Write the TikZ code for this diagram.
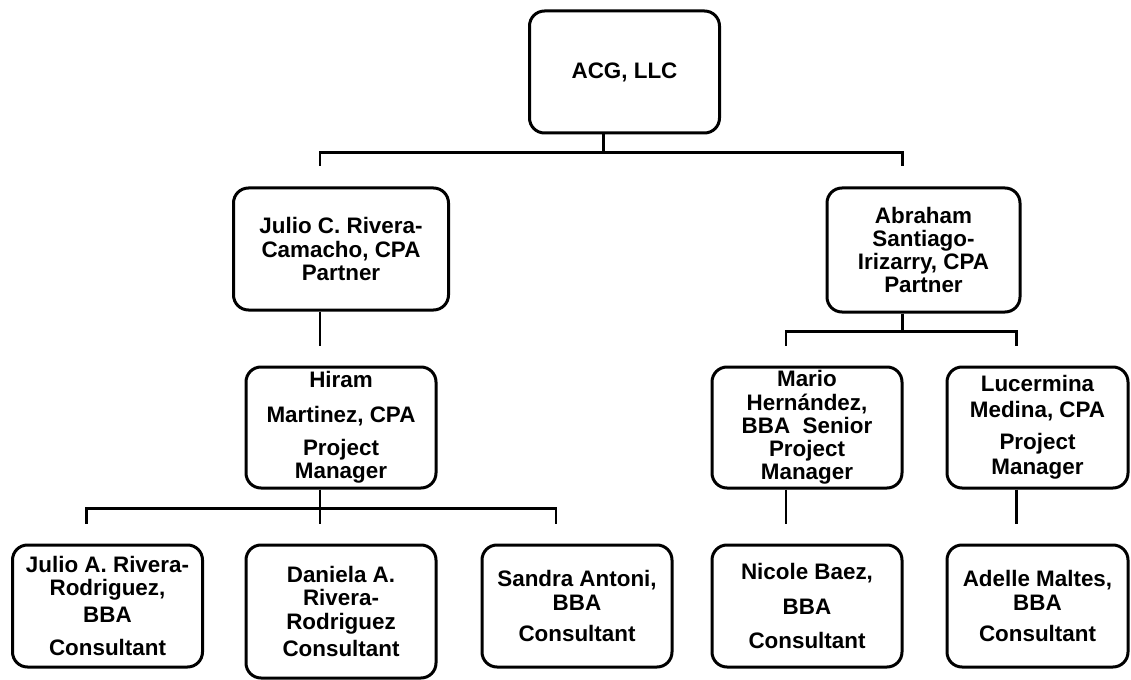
\documentclass[tikz,border=0pt]{standalone}
\usepackage{fontspec}
\setmainfont{Liberation Sans}
\usepackage{tikz}

\newcommand{\orgfont}{\fontsize{11.2}{11.6}\selectfont\bfseries}
\newcommand{\linkdx}{-10.5pt}
\newcommand{\linkgap}{10pt}

\begin{document}
\begin{tikzpicture}[x=0.5pt,y=-0.5pt,
    orgbox/.style={draw, line width=1.5pt, rounded corners=7.5pt, align=center,
        inner sep=0pt, font=\orgfont, minimum width=95pt, minimum height=61pt},
    link/.style={line width=1.2pt}]
        \fill[white] (0,0) rectangle (1131,679);
        % top
        \node[orgbox] (acg) at (624.5,72) {ACG, LLC};
        % partners
        \node[orgbox, minimum width=107.5pt] (jc) at (341,249) {Julio C. Rivera-\\Camacho, CPA\\Partner};
        \node[orgbox, minimum width=96.5pt, minimum height=62pt] (ab) at (923.5,250) {Abraham\\Santiago-\\Irizarry, CPA\\Partner};
        % managers
        \node[orgbox, minimum height=60.5pt] (hm) at (341,427.5) {Hiram\\[5.5pt]Martinez, CPA\\[5pt]Project\\Manager};
        \node[orgbox, minimum height=60.5pt] (mh) at (807,427.5) {Mario\\Hern\'andez,\\BBA~ Senior\\Project\\Manager};
        \node[orgbox, minimum width=90.5pt, minimum height=60.5pt] (lm) at (1037.5,427.5) {Lucermina\\[1pt]Medina, CPA\\[4.5pt]Project\\[1pt]Manager};
        % consultants
        \node[orgbox] (ja) at (107.5,606) {Julio A. Rivera-\\Rodriguez,\\[2pt]BBA\\[5pt]Consultant};
        \node[orgbox, minimum height=66.5pt] (dr) at (341,611.5) {Daniela A.\\Rivera-\\Rodriguez\\[2pt]Consultant};
        \node[orgbox] (sa) at (577,606) {Sandra Antoni,\\BBA\\[4pt]Consultant};
        \node[orgbox] (nb) at (807,606) {Nicole Baez,\\[5.5pt]BBA\\[5.5pt]Consultant};
        \node[orgbox, minimum width=90.5pt] (am) at (1037.5,606) {Adelle Maltes,\\BBA\\[4pt]Consultant};
        % lines
        \draw[link] ([xshift=\linkdx]acg.south) -- ++(0,18) -| ([xshift=\linkdx,yshift=\linkgap]jc.north);
        \draw[link] ([xshift=\linkdx]acg.south) -- ++(0,18) -| ([xshift=\linkdx,yshift=\linkgap]ab.north);
        \draw[link] ([xshift=\linkdx]jc.south) -- ([xshift=\linkdx,yshift=\linkgap]hm.north);
        \draw[link] ([xshift=\linkdx]ab.south) -- ++(0,18) -| ([xshift=\linkdx,yshift=\linkgap]mh.north);
        \draw[link] ([xshift=\linkdx]ab.south) -- ++(0,18) -| ([xshift=\linkdx,yshift=\linkgap]lm.north);
        \draw[link] ([xshift=\linkdx]hm.south) -- ++(0,19) -| ([xshift=\linkdx,yshift=\linkgap]ja.north);
        \draw[link] ([xshift=\linkdx]hm.south) -- ++(0,19) -| ([xshift=\linkdx,yshift=\linkgap]dr.north);
        \draw[link] ([xshift=\linkdx]hm.south) -- ++(0,19) -| ([xshift=\linkdx,yshift=\linkgap]sa.north);
        \draw[link] ([xshift=\linkdx]mh.south) -- ([xshift=\linkdx,yshift=\linkgap]nb.north);
        \draw[link] ([xshift=\linkdx]lm.south) -- ([xshift=\linkdx,yshift=\linkgap]am.north);
\end{tikzpicture}
\end{document}
